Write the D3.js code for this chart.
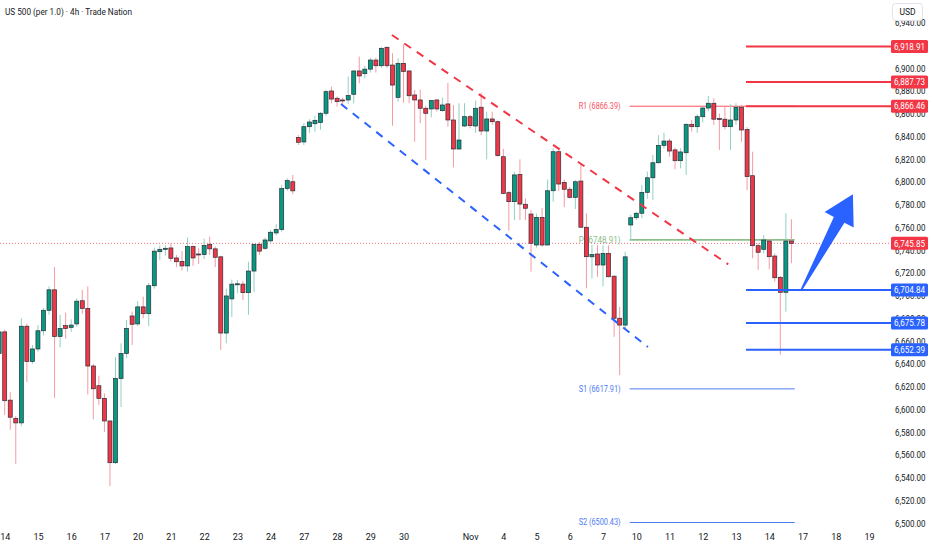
<!DOCTYPE html>
<html><head><meta charset="utf-8">
<script src="https://cdn.jsdelivr.net/npm/d3@7"></script>
<style>
html,body{margin:0;padding:0;background:#fff;overflow:hidden}
svg{display:block}
text{font-family:Roboto,"Noto Sans",sans-serif}
</style></head><body>
<svg id="chart" width="932" height="550"></svg>
<script>
const title = "US 500 (per 1.0) \u00b7 4h \u00b7 Trade Nation";
const currency = "USD";

const open = [6649,6668,6608,6592,6588,6673,6642,6653,6669,6687,
6705,6664,6673.5,6672,6675,6695.4,6688.7,6638,6620.7,6609.6,
6589.7,6553,6627,6649,6682,6675,6690,6684,6708.6,6738.5,
6740.6,6741.8,6733,6730,6726,6743,6736.5,6736,6745,6741,
6734,6667,6697,6710,6710,6702.5,6721.5,6745,6741.5,6748,
6755,6758,6794,6800,6839,6835,6848.4,6851,6852,6860.2,
6879.8,6873.4,6871.9,6871.9,6876.9,6897.4,6895,6899,6907,6902,
6918.2,6902.6,6874.2,6904.1,6897.4,6876.3,6871.9,6864.6,6864,6871.9,
6862.5,6868.4,6854.3,6828.8,6849,6857.2,6849,6865.5,6844.6,6855.2,
6852.8,6822,6790.4,6782.5,6806.5,6780.2,6771.6,6744.4,6768.7,6744.4,
6792.1,6826.4,6799.5,6793.4,6786.3,6800.6,6760,6734,6736.5,6726.8,
6737,6717,6680,6674,6762,6768.4,6772.3,6790.7,6803.5,6816.7,
6832,6835.8,6828,6818.5,6825.5,6850.5,6848.4,6857.2,6864.8,6869,
6855.5,6855,6848.4,6854.3,6865.5,6846,6805.3,6743.8,6740.6,6747.9,
6734.7,6716,6702.8,6747.9];

const high = [6673,6670,6615,6594,6680,6675,6656.5,6674,6689,6708,
6725,6683,6685,6679,6697.5,6705,6708,6640,6629.5,6614,
6590,6646,6658,6678.5,6685.8,6695,6699,6711,6742,6744,
6744,6746,6735.6,6739,6751,6744,6741.5,6750,6751.7,6743,
6735,6706,6714,6713.6,6713,6729.7,6745.5,6747,6751,6757.6,
6762.6,6797,6803,6806,6841,6851.6,6855,6858,6861.3,6881,
6883.6,6875,6874,6892.4,6898,6910,6901.8,6909,6909,6918.5,
6919,6913,6908.5,6921,6898,6880.7,6881,6867,6872,6872.5,
6874,6887,6867.5,6869,6869,6858.7,6871.3,6878.3,6861.6,6861.6,
6854,6829,6792,6808.8,6819.7,6785.4,6775,6772,6777,6802,
6829.4,6829,6802,6795.7,6801.5,6816,6772.3,6744.4,6744.4,6744,
6744,6717.5,6690,6738.5,6771,6773.7,6797,6809,6823.5,6841,
6843,6838,6830,6829.4,6851.4,6854.3,6859.3,6866,6875.4,6873.4,
6860,6866,6868,6869,6867.5,6848,6826.4,6746,6753,6750,
6737,6717,6772.3,6767];

const low = [6640,6595,6582,6552,6585,6624,6640,6650.6,6665,6683,
6610,6654.5,6662,6668,6672.6,6684,6613,6591,6603.7,6580,
6532.5,6552,6602,6645,6656.5,6673,6680,6673,6706,6731,
6735,6730,6725,6722,6721,6726,6727.7,6732,6735.6,6725,
6652,6658,6681,6702,6696,6683,6703,6735.6,6740,6746.4,
6753,6756,6792,6789,6832.3,6832.3,6842.9,6844,6845.7,6858,
6869,6866,6867,6868.4,6869,6886.5,6891,6896,6896,6900,
6900,6849.3,6870.4,6869.5,6869,6835.2,6851.4,6819,6856.7,6861.6,
6861.6,6848.4,6812.7,6828,6848,6847,6843,6841,6819.7,6850,
6822,6789,6757,6766.4,6766.4,6766.4,6721,6742,6743,6744,
6782.5,6792,6777.8,6785.4,6776,6760,6706.3,6715,6716.5,6708,
6716,6663.7,6630,6671,6749,6766.4,6768,6785,6784,6816,
6829,6822,6811,6811.8,6806,6844,6843,6852,6862,6850,
6828,6846,6828,6850,6835.2,6792.7,6732.7,6722.4,6737,6723,
6712,6648,6685.8,6728.3];

const close = [6668,6607.5,6593,6588,6673,6642,6653,6669,6687,6705,
6664,6671,6671,6674,6695,6688.7,6638,6618,6609.6,6589.7,
6553,6627,6649,6671,6674.7,6690,6684,6708.6,6739,6740.6,
6741.5,6732.7,6729.7,6726,6743,6733,6736,6744,6741,6733.6,
6667,6699.6,6710,6710.3,6702.5,6721.5,6745,6739,6748.8,6755.6,
6758,6794,6801,6792,6834.7,6848.4,6852.5,6854,6860.2,6879.2,
6872.7,6870.4,6871.6,6875.8,6897.4,6893,6899,6907,6902,6917.3,
6902,6885,6904.1,6897,6875.6,6871.9,6864.6,6860.2,6871.3,6864,
6867.5,6854.3,6828.8,6836.7,6857.2,6849.3,6864.6,6844.6,6855.2,6852.8,
6823,6789.8,6782.5,6806,6780.4,6776.7,6745.9,6768.7,6744.4,6792.1,
6826.4,6798,6793.4,6786.3,6800,6760,6734.1,6736,6726.8,6737,
6716.5,6680,6674,6734,6768.4,6772.3,6790.7,6803.5,6816.7,6832,
6835.8,6827,6818.5,6826.2,6850.5,6848.4,6857.2,6864.8,6869,6855,
6855,6848.4,6854.3,6865.5,6845.5,6804.5,6743.8,6738,6748.8,6734.1,
6715.6,6702.8,6747.9,6745.85];

const xTickIndex = [2,8,14,20,26,32,38,44,50,56,62,68,74,86,92,98,104,110,116,122,128,134,140,146,152,158];
const xTickLabels = ["14","15","16","17","20","21","22","23","24","27","28","29","30","Nov","4","5","6","7","10","11","12","13","14","17","18","19"];
const yTicks = d3.range(6500, 6941, 20);

const resistance = [6918.91, 6887.73, 6866.46];
const support = [6704.84, 6675.78, 6652.39];
const lastPrice = 6745.85;
const pivotNames = ["R1", "P", "S1", "S2"];
const pivotValues = [6866.39, 6748.91, 6617.91, 6500.43];
const pivotSpan = [114.8, 144.6];
const levelStartIndex = 135.8;
const redTrend = [[71.9, 6929], [132.6, 6727.4]];
const blueTrend = [[62.7, 6868.4], [118.1, 6654.7]];
const arrowBase = [145.7, 6704];
const arrowTip = [155.1, 6789];

const RED = "#f23645", GREEN = "#089981", BLUE = "#2962ff", TXT = "#131722";
const W = 932, H = 550, plotRight = 891;

const svg = d3.select("#chart");
const x = d3.scaleLinear().domain([1, 144]).range([-0.84, 791.4]);
const y = d3.scaleLinear().domain([6500, 6900]).range([523, 68]);

svg.append("rect").attr("width", W).attr("height", H).attr("fill", "#fff");

const plot = svg.append("g");
plot.append("clipPath").attr("id", "pc").append("rect").attr("x", 0).attr("y", 0).attr("width", plotRight).attr("height", 528);
const pg = plot.append("g").attr("clip-path", "url(#pc)");

// last price dotted line
pg.append("line").attr("x1", 0).attr("x2", plotRight).attr("y1", y(lastPrice)).attr("y2", y(lastPrice))
  .attr("stroke", RED).attr("stroke-opacity", 0.7).attr("stroke-width", 1).attr("stroke-dasharray", "1,2");

// pivots
const pivotColors = ["#f7525f", "#8cc08a", "#4d7cf5", "#4d7cf5"];
pivotValues.forEach((v, k) => {
  pg.append("line").attr("x1", x(pivotSpan[0])).attr("x2", x(pivotSpan[1]))
    .attr("y1", y(v)).attr("y2", y(v)).attr("stroke", pivotColors[k])
    .attr("stroke-width", k === 1 ? 1.6 : 1);
  pg.append("text").attr("x", x(pivotSpan[0]) - 9).attr("y", y(v)).attr("dy", "0.35em")
    .attr("text-anchor", "end").attr("font-size", 8.5).attr("fill", pivotColors[k])
    .attr("textLength", 42).attr("lengthAdjust", "spacingAndGlyphs")
    .text(`${pivotNames[k]} (${v.toFixed(2)})`);
});

// candles
const idx = d3.range(open.length);
const cg = pg.append("g");
cg.selectAll("line.wick").data(idx).join("line").attr("class", "wick")
  .attr("x1", i => x(i + 1)).attr("x2", i => x(i + 1))
  .attr("y1", i => y(Math.max(high[i], open[i], close[i])))
  .attr("y2", i => y(Math.min(low[i], open[i], close[i])))
  .attr("stroke", i => close[i] >= open[i] ? "#8fd1c2" : "#f59aa3").attr("stroke-width", 1);
cg.selectAll("rect.body").data(idx).join("rect").attr("class", "body")
  .attr("x", i => x(i + 1) - 2)
  .attr("width", 4)
  .attr("y", i => y(Math.max(open[i], close[i])))
  .attr("height", i => Math.max(1, Math.abs(y(open[i]) - y(close[i]))))
  .attr("fill", i => close[i] >= open[i] ? GREEN : RED)
  .attr("stroke", "#2a2e39").attr("stroke-width", 0.7);

// trend lines
const lineGen = d3.line().x(d => x(d[0])).y(d => y(d[1]));
pg.append("path").attr("d", lineGen(redTrend)).attr("stroke", RED).attr("stroke-width", 2)
  .attr("fill", "none").attr("stroke-dasharray", "8,7");
pg.append("path").attr("d", lineGen(blueTrend)).attr("stroke", BLUE).attr("stroke-width", 2)
  .attr("fill", "none").attr("stroke-dasharray", "8,7");

// horizontal levels
resistance.forEach(v => {
  pg.append("line").attr("x1", x(levelStartIndex)).attr("x2", plotRight).attr("y1", y(v)).attr("y2", y(v))
    .attr("stroke", RED).attr("stroke-width", 2);
});
support.forEach(v => {
  pg.append("line").attr("x1", x(levelStartIndex)).attr("x2", plotRight).attr("y1", y(v)).attr("y2", y(v))
    .attr("stroke", BLUE).attr("stroke-width", 2);
});

// arrow
(function () {
  const bx = x(arrowBase[0]), by = y(arrowBase[1]);
  const tx = x(arrowTip[0]), ty = y(arrowTip[1]);
  const dx = tx - bx, dy = ty - by, L = Math.hypot(dx, dy);
  const ux = dx / L, uy = dy / L, nx = -uy, ny = ux;
  const headLen = 29, headHalf = 16.5, shaftHead = 6, shaftBase = 0.8;
  const hx = tx - ux * headLen, hy = ty - uy * headLen;
  const pts = [
    [bx - nx * shaftBase, by - ny * shaftBase],
    [hx - nx * shaftHead, hy - ny * shaftHead],
    [hx - nx * headHalf, hy - ny * headHalf],
    [tx, ty],
    [hx + nx * headHalf, hy + ny * headHalf],
    [hx + nx * shaftHead, hy + ny * shaftHead],
    [bx + nx * shaftBase, by + ny * shaftBase]
  ];
  pg.append("path").attr("d", "M" + pts.map(p => p.join(",")).join("L") + "Z").attr("fill", BLUE);
})();

// right axis
const fmt = d3.format(",.2f");
const ya = svg.append("g").attr("transform", `translate(895,0)`)
  .call(d3.axisRight(y).tickValues(yTicks).tickSize(0).tickPadding(0).tickFormat(fmt));
ya.select(".domain").remove();
ya.selectAll("text").attr("fill", TXT).attr("font-size", 9.5)
  .attr("textLength", 30.5).attr("lengthAdjust", "spacingAndGlyphs");

// price labels
function priceLabel(v, col) {
  svg.append("rect").attr("x", plotRight).attr("y", y(v) - 6.5).attr("width", 37).attr("height", 13)
    .attr("rx", 1.5).attr("fill", col);
  svg.append("text").attr("x", 894).attr("y", y(v)).attr("dy", "0.35em").attr("fill", "#fff")
    .attr("font-size", 9.5).attr("textLength", 31).attr("lengthAdjust", "spacingAndGlyphs")
    .text(fmt(v));
}
resistance.forEach(v => priceLabel(v, RED));
priceLabel(lastPrice, RED);
support.forEach(v => priceLabel(v, BLUE));

// USD box
svg.append("rect").attr("x", 892.5).attr("y", 3.5).attr("width", 30).attr("height", 17).attr("rx", 3)
  .attr("fill", "#fff").attr("stroke", "#e0e3eb");
svg.append("text").attr("x", 907.5).attr("y", 12).attr("dy", "0.35em").attr("text-anchor", "middle")
  .attr("font-size", 8.5).attr("fill", TXT).text(currency);

// bottom axis
const xa = svg.append("g").attr("transform", "translate(0,537)")
  .call(d3.axisBottom(x).tickValues(xTickIndex).tickSize(0).tickPadding(0)
    .tickFormat((d, k) => xTickLabels[k]));
xa.select(".domain").remove();
xa.selectAll("text").attr("fill", TXT).attr("font-size", 9).attr("dy", "0.35em").attr("y", 0);

// title
svg.append("text").attr("x", 5).attr("y", 12).attr("dy", "0.35em").attr("font-size", 9.5)
  .attr("fill", TXT).attr("textLength", 127).attr("lengthAdjust", "spacingAndGlyphs").text(title);
</script>
</body></html>
